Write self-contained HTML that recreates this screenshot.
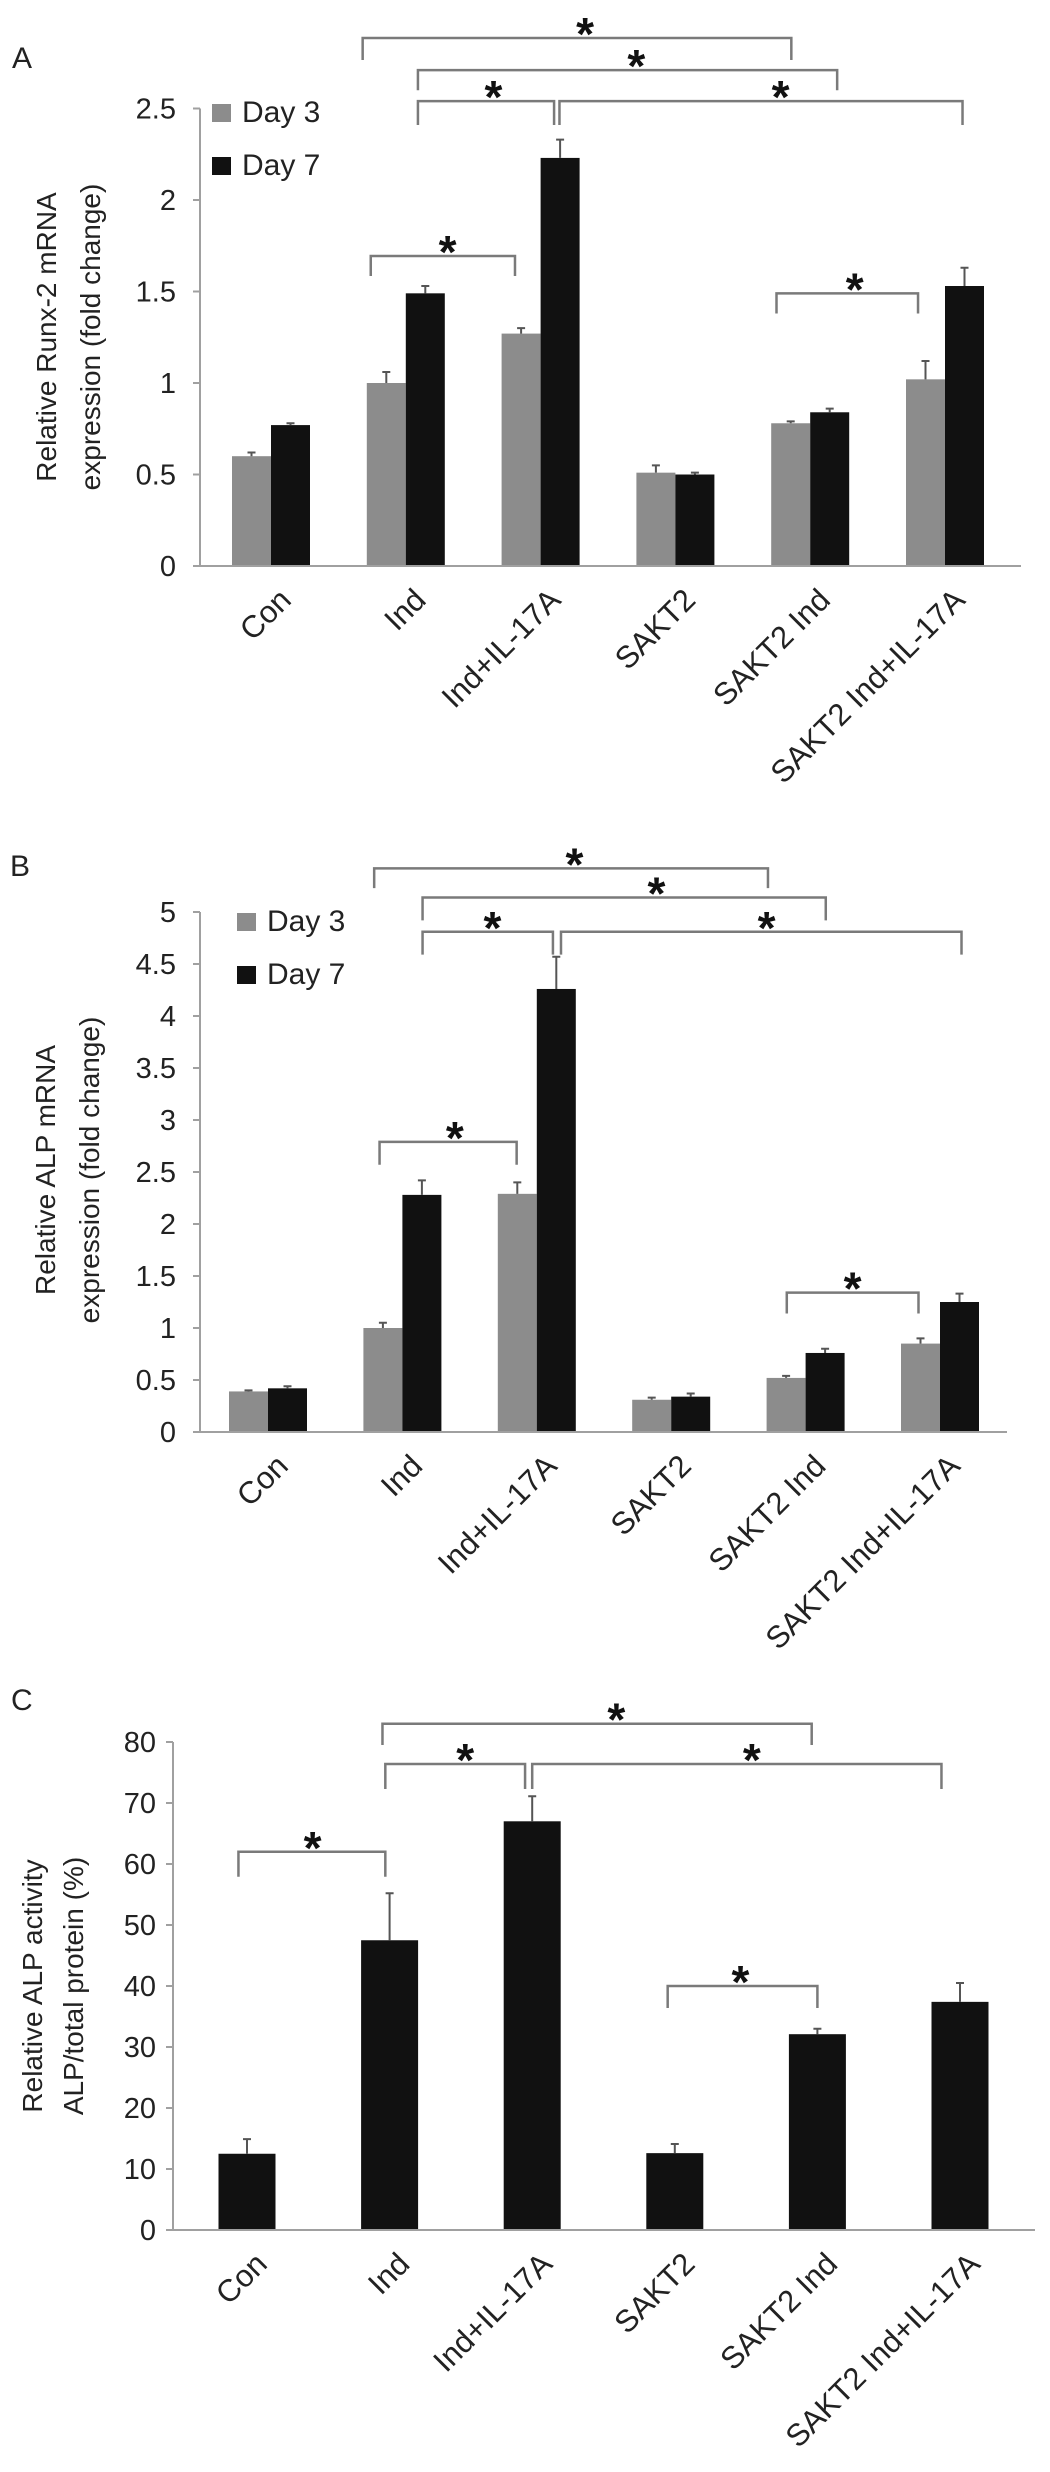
<!DOCTYPE html>
<html><head><meta charset="utf-8"><style>
html,body{margin:0;padding:0;background:#fff;}
svg{display:block;font-family:"Liberation Sans",Arial,sans-serif;}
</style></head><body>
<svg id="fig" width="1050" height="2472" viewBox="0 0 1050 2472" xmlns="http://www.w3.org/2000/svg"></svg>
<script>
// ---- data ----
const categories = ["Con","Ind","Ind+IL-17A","SAKT2","SAKT2 Ind","SAKT2 Ind+IL-17A"];
const runxDay3 = [0.60,1.00,1.27,0.51,0.78,1.02];
const runxDay3Err = [0.02,0.06,0.03,0.04,0.01,0.10];
const runxDay7 = [0.77,1.49,2.23,0.50,0.84,1.53];
const runxDay7Err = [0.01,0.04,0.10,0.01,0.02,0.10];
const runxTicks = [0,0.5,1,1.5,2,2.5];
const alpDay3 = [0.39,1.00,2.29,0.31,0.52,0.85];
const alpDay3Err = [0.01,0.05,0.11,0.02,0.02,0.05];
const alpDay7 = [0.42,2.28,4.26,0.34,0.76,1.25];
const alpDay7Err = [0.02,0.14,0.31,0.03,0.04,0.08];
const alpTicks = [0,0.5,1,1.5,2,2.5,3,3.5,4,4.5,5];
const activity = [12.5,47.5,67.0,12.6,32.1,37.4];
const activityErr = [2.4,7.7,4.1,1.5,0.9,3.1];
const activityTicks = [0,10,20,30,40,50,60,70,80];
const legendLabels = ["Day 3","Day 7"];
// brackets: [fromIndex, toIndex, levelValue, dropValue, starIndex]
const runxBrackets = [[0.68,3.86,2.885,2.765,2.33],[1.09,4.20,2.71,2.60,2.71],[1.09,2.10,2.54,2.41,1.65],[2.14,5.13,2.54,2.41,3.78],[0.74,1.81,1.694,1.585,1.31],[3.75,4.80,1.49,1.38,4.33]];
const alpBrackets = [[0.79,3.72,5.42,5.23,2.28],[1.15,4.15,5.14,4.92,2.89],[1.15,2.12,4.81,4.59,1.67],[2.18,5.16,4.81,4.59,3.71],[0.83,1.85,2.79,2.57,1.39],[3.86,4.84,1.34,1.14,4.35]];
const actBrackets = [[-0.06,0.97,62.0,57.9,0.46],[0.95,3.96,83.0,79.5,2.59],[0.97,1.95,76.4,72.3,1.53],[2.00,4.87,76.4,72.3,3.54],[2.95,4.00,40.0,36.4,3.46]];

const NS="http://www.w3.org/2000/svg";
const svg=document.getElementById('fig');
function mk(tag,attrs,parent,text){const e=document.createElementNS(NS,tag);for(const k in attrs)e.setAttribute(k,attrs[k]);if(text!==undefined)e.textContent=text;(parent||svg).appendChild(e);return e;}

function panel(o){
  const g=mk('g',{});
  
  
  const y=v=>o.y0-(v-o.vmin)*o.ppu;
  const xc=i=>o.cx0+o.step*i;
  const L=mk('text',{x:o.letterX,y:o.letterY,'font-size':30,fill:'#222'},g,o.letter);
  
  
  o.title.forEach((t,k)=>{
    const bx=o.titleX[k];const cy=o.titleCY;
    const T=mk('text',{x:bx,y:cy,'font-size':28,fill:'#222','text-anchor':'middle',transform:`rotate(-90 ${bx} ${cy})`},g,t);
    
    
  });
  const top=y(o.ticks[o.ticks.length-1]);
  const ya=mk('line',{x1:o.ax,y1:top,x2:o.ax,y2:o.y0,stroke:'#a0a0a0','stroke-width':2},g);
  
  
  o.ticks.forEach(t=>{
    const tl=mk('line',{x1:o.ax-7,y1:y(t),x2:o.ax,y2:y(t),stroke:'#a0a0a0','stroke-width':2},g);
    
    
    const tt=mk('text',{x:o.tickX,y:y(t)+10,'font-size':29,fill:'#222','text-anchor':'end'},g,String(t));
    
    
  });
  const n=o.series.length;
  o.series.forEach((s,si)=>{
    s.vals.forEach((v,i)=>{
      const left=xc(i)-n*o.bw/2+si*o.bw;
      const r=mk('rect',{x:left,y:y(v),width:o.bw,height:o.y0-y(v),fill:s.color},g);
      
      
      const mx=left+o.bw/2;const e=v+s.err[i];
      const el=mk('path',{d:`M${mx} ${y(v)}V${y(e)}M${mx-4} ${y(e)}H${mx+4}`,stroke:'#555','stroke-width':2,fill:'none'},g);
      
      
    });
  });
  const xa=mk('line',{x1:o.ax-6,y1:o.y0,x2:o.axEnd,y2:o.y0,stroke:'#a0a0a0','stroke-width':2},g);
  
  
  categories.forEach((c,i)=>{
    const ax=xc(i)+16,ay=o.y0+30;
    const t=mk('text',{x:ax,y:ay,'font-size':31,fill:'#222','text-anchor':'end','dominant-baseline':'middle',transform:`rotate(-45 ${ax} ${ay})`},g,c);
    
    
  });
  if(o.legend){
    o.series.forEach((s,si)=>{
      const ly=o.legend.y+si*o.legend.gap;
      const sq=mk('rect',{x:o.legend.x,y:ly-18,width:19,height:18,fill:s.color},g);
      
      
      const lt=mk('text',{x:o.legend.x+30,y:ly,'font-size':30,fill:'#222'},g,legendLabels[si]);
      
      
    });
  }
  o.brackets.forEach(b=>{
    const x1=xc(b[0]),x2=xc(b[1]),by=y(b[2]),dy=y(b[3]);
    const p=mk('path',{d:`M${x1} ${dy}V${by}H${x2}V${dy}`,stroke:'#7a7a7a','stroke-width':2.5,fill:'none'},g);
    
    
    const st=mk('text',{x:xc(b[4]),y:by+12,'font-size':46,'font-weight':'bold',fill:'#111','text-anchor':'middle'},g,'*');
    
    
  });
}

panel({name:'panel-a-runx2',letter:'A',letterX:12,letterY:68,title:['Relative Runx-2 mRNA','expression (fold change)'],titleX:[56,100],titleCY:337,
  ax:200,axEnd:1021,y0:566,vmin:0,ppu:183,ticks:runxTicks,tickX:176,cx0:271,step:134.8,bw:39,
  series:[{key:'day3',vals:runxDay3,err:runxDay3Err,color:'#8c8c8c'},{key:'day7',vals:runxDay7,err:runxDay7Err,color:'#111'}],
  legend:{x:212,y:122,gap:53},brackets:runxBrackets});

panel({name:'panel-b-alp-mrna',letter:'B',letterX:10,letterY:876,title:['Relative ALP mRNA','expression (fold change)'],titleX:[55,99],titleCY:1170,
  ax:200,axEnd:1007,y0:1432,vmin:0,ppu:104,ticks:alpTicks,tickX:176,cx0:268,step:134.4,bw:39,
  series:[{key:'day3',vals:alpDay3,err:alpDay3Err,color:'#8c8c8c'},{key:'day7',vals:alpDay7,err:alpDay7Err,color:'#111'}],
  legend:{x:237,y:931,gap:53},brackets:alpBrackets});

panel({name:'panel-c-alp-activity',letter:'C',letterX:11,letterY:1710,title:['Relative ALP activity','ALP/total protein (%)'],titleX:[42,83],titleCY:1986,
  ax:173,axEnd:1035,y0:2230,vmin:0,ppu:6.1,ticks:activityTicks,tickX:156,cx0:247,step:142.6,bw:57,
  series:[{key:'activity',vals:activity,err:activityErr,color:'#111'}],
  legend:null,brackets:actBrackets});
</script>
</body></html>
